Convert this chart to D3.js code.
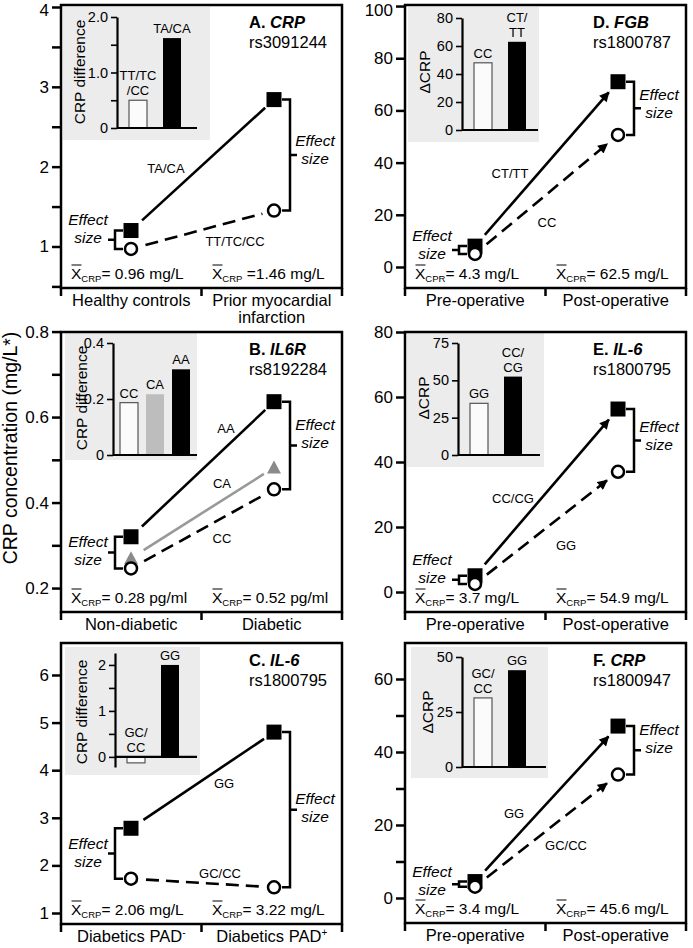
<!DOCTYPE html>
<html>
<head>
<meta charset="utf-8">
<script src="https://cdn.jsdelivr.net/npm/d3@7"></script>
<style>
  html, body { margin: 0; padding: 0; background: #fff; }
  svg { display: block; }
</style>
</head>
<body>
<svg id="fig" width="693" height="948"></svg>
<script>
/* DATA */
const panelLetters = ["A", "B", "C", "D", "E", "F"]
const geneNames = ["CRP", "IL6R", "IL-6", "FGB", "IL-6", "CRP"]
const snpIds = ["rs3091244", "rs8192284", "rs1800795", "rs1800787", "rs1800795", "rs1800947"]

const categoryLabels = [
  ["Healthy controls", "Prior myocardial\ninfarction"],
  ["Non-diabetic", "Diabetic"],
  ["Diabetics PAD^-", "Diabetics PAD^+"],
  ["Pre-operative", "Post-operative"],
  ["Pre-operative", "Post-operative"],
  ["Pre-operative", "Post-operative"]
]

const meanSubscripts = ["CRP", "CRP", "CRP", "CPR", "CRP", "CRP"]
const meanTexts = [
  ["= 0.96 mg/L", " =1.46 mg/L"],
  ["= 0.28 pg/ml", "= 0.52 pg/ml"],
  ["= 2.06 mg/L", "= 3.22 mg/L"],
  ["= 4.3 mg/L", "= 62.5 mg/L"],
  ["= 3.7 mg/L", "= 54.9 mg/L"],
  ["= 3.4 mg/L", "= 45.6 mg/L"]
]

// first genotype = filled square + solid line, last = open circle + dashed line, middle = grey triangle
const seriesNames = [
  ["TA/CA", "TT/TC/CC"],
  ["AA", "CA", "CC"],
  ["GG", "GC/CC"],
  ["CT/TT", "CC"],
  ["CC/CG", "GG"],
  ["GG", "GC/CC"]
]
const seriesValues = [
  [[1.2, 2.84], [0.97, 1.45]],
  [[0.32, 0.636], [0.27, 0.482], [0.246, 0.431]],
  [[2.78, 4.8], [1.72, 1.54]],
  [[8, 71], [5, 50.6]],
  [[5.0, 56.3], [2.5, 37]],
  [[4.5, 47.1], [3.1, 33.8]]
]

// inset bar charts (left bar white, right bar black, middle grey)
const insetGenotypes = [
  ["TT/TC\n/CC", "TA/CA"],
  ["CC", "CA", "AA"],
  ["GC/\nCC", "GG"],
  ["CC", "CT/\nTT"],
  ["GG", "CC/\nCG"],
  ["GC/\nCC", "GG"]
]
const insetValues = [
  [0.5, 1.62],
  [0.187, 0.217, 0.306],
  [-0.13, 2.0],
  [48, 63],
  [34.6, 52.5],
  [31.4, 44]
]
const insetTitles = ["CRP difference", "CRP difference", "CRP difference", "\u0394CRP", "\u0394CRP", "\u0394CRP"]

// axes
const yDomains = [[0.48, 4.025], [0.144, 0.799], [0.769, 6.672], [-8.05, 100.4], [-6.15, 80], [-6.85, 69.86]]
const yTicks = [[1, 2, 3, 4], [0.2, 0.4, 0.6, 0.8], [1, 2, 3, 4, 5, 6], [0, 20, 40, 60, 80, 100], [0, 20, 40, 60, 80], [0, 20, 40, 60]]
const yMinorTicks = [[0.5, 1.5, 2.5, 3.5], [0.3, 0.5, 0.7], [], [], [], [10, 30, 50]]

const insetDomains = [[0, 2], [0, 0.4], [-0.22, 2.26], [0, 80], [0, 75], [0, 50]]
const insetTicks = [[0, 1, 2], [0, 0.2, 0.4], [0, 1, 2], [0, 20, 40, 60, 80], [0, 25, 50, 75], [0, 25, 50]]
const insetTickLabels = [["0", "1.0", "2.0"], ["0", "0.2", "0.4"], ["0", "1", "2"], ["0", "20", "40", "60", "80"], ["0", "25", "50", "75"], ["0", "25", "50"]]
const insetMinorTicks = [[0.5, 1.5], [], [0.5, 1.5], [], [], []]

/* LAYOUT */
const FONT = "'Liberation Sans', Arial, Helvetica, sans-serif"

const frames = [
  { x0: 61, x1: 342, y0: 5, y1: 288 },
  { x0: 61, x1: 342, y0: 332, y1: 612 },
  { x0: 61, x1: 342, y0: 643, y1: 924 },
  { x0: 405, x1: 686, y0: 5, y1: 288 },
  { x0: 405, x1: 686, y0: 332, y1: 612 },
  { x0: 405, x1: 686, y0: 643, y1: 923 }
]
const insetBoxes = [
  { x: 63, y: 7, w: 147, h: 133, ax: 117, axEnd: 197, r: [128, 17] },
  { x: 65, y: 333, w: 132, h: 127, ax: 113, axEnd: 197, r: [455, 343] },
  { x: 65, y: 647, w: 135, h: 128, ax: 115, axEnd: 197, r: [767, 653] },
  { x: 408, y: 7, w: 131, h: 135, ax: 462, axEnd: 538, r: [130, 18] },
  { x: 407, y: 333, w: 137, h: 134, ax: 458, axEnd: 540, r: [455, 343] },
  { x: 411, y: 647, w: 137, h: 131, ax: 462, axEnd: 546, r: [767, 657] }
]
// genotype label centres, relative to the frame's top-left corner
const labelSpots = [
  [[105, 163], [174, 236]],
  [[165, 96], [161, 151], [161, 206]],
  [[163, 140], [159, 230]],
  [[105, 168], [142, 217]],
  [[108, 166], [161, 213]],
  [[109, 170], [161, 202]]
]
// baseline of "Effect" relative to the bracket's middle tick: [left bracket, right bracket]
const effectShift = [[-15, -9], [-6, -15], [-5, -6], [-9, -8], [-15, -8], [-7, -15]]
const withArrows = [false, false, false, true, true, true]

const svg = d3.select('#fig').attr('font-family', FONT)

svg.append('defs').append('marker')
  .attr('id', 'head')
  .attr('viewBox', '0 0 10 10')
  .attr('refX', 9).attr('refY', 5)
  .attr('markerWidth', 11).attr('markerHeight', 10)
  .attr('markerUnits', 'userSpaceOnUse')
  .attr('orient', 'auto')
  .append('path').attr('d', 'M0,0L10,5L0,10Z').attr('fill', '#000')

// pull both ends of a segment in, so the line stops short of the symbols
function shorten(x1, y1, x2, y2, a, b) {
  const dx = x2 - x1, dy = y2 - y1, len = Math.hypot(dx, dy)
  return [x1 + dx * a / len, y1 + dy * a / len, x2 - dx * b / len, y2 - dy * b / len]
}

function drawPanel(p) {
  const fr = frames[p], box = insetBoxes[p]
  const g = svg.append('g')

  const y = d3.scaleLinear().domain(yDomains[p]).range([fr.y1, fr.y0])
  const band = d3.scaleBand().domain([0, 1]).range([fr.x0, fr.x1])
  const x = d3.scalePoint().domain([0, 1]).range([fr.x0 + 70, fr.x0 + 213])

  // --- inset bar chart ---
  g.append('rect')
    .attr('x', box.x).attr('y', box.y)
    .attr('width', box.w).attr('height', box.h)
    .attr('fill', '#ececec')

  const iy = d3.scaleLinear().domain(insetDomains[p]).range(box.r)
  const names = insetGenotypes[p], n = names.length
  const step = n === 3 ? 26 : 34, start = n === 3 ? 7 : 12
  const ix = d3.scaleBand().domain(d3.range(n))
    .range([box.ax + start, box.ax + start + (n - 1) * step + 18])
    .paddingInner(1 - 18 / step).paddingOuter(0)

  const barFill = i => i === n - 1 ? '#000' : (i === 0 ? '#fbfbfb' : '#bdbdbd')

  g.selectAll(null)
    .data(insetValues[p])
    .join('rect')
    .attr('x', (d, i) => ix(i))
    .attr('width', ix.bandwidth())
    .attr('y', d => iy(Math.max(0, d)))
    .attr('height', d => Math.abs(iy(d) - iy(0)))
    .attr('fill', (d, i) => barFill(i))
    .attr('stroke', (d, i) => i === 0 ? '#555' : 'none')
    .attr('stroke-width', 1.2)

  insetValues[p].forEach((v, i) => {
    const lines = names[i].split('\n')
    const top = iy(Math.max(0, v))
    lines.forEach((ln, k) => {
      g.append('text')
        .attr('x', ix(i) + ix.bandwidth() / 2)
        .attr('y', top - 5 - (lines.length - 1 - k) * 15)
        .attr('text-anchor', 'middle')
        .attr('font-size', 13)
        .text(ln)
    })
  })

  const ia = g.append('g')
    .attr('transform', `translate(${box.ax},0)`)
    .call(d3.axisLeft(iy).tickValues(insetTicks[p]).tickSize(6).tickSizeOuter(0).tickPadding(3)
      .tickFormat((d, i) => insetTickLabels[p][i]))
  ia.select('.domain').attr('stroke-width', 2.2)
  ia.selectAll('line').attr('stroke-width', 1.6)
  ia.selectAll('text').attr('font-size', 14.5).attr('font-family', FONT)

  if (insetMinorTicks[p].length) {
    g.append('g')
      .attr('transform', `translate(${box.ax},0)`)
      .call(d3.axisLeft(iy).tickValues(insetMinorTicks[p]).tickSize(6).tickFormat(''))
      .call(a => a.select('.domain').remove())
      .selectAll('line').attr('stroke-width', 1.6)
  }

  g.append('line')
    .attr('x1', box.ax).attr('x2', box.axEnd)
    .attr('y1', iy(0)).attr('y2', iy(0))
    .attr('stroke', '#000').attr('stroke-width', 2.2)

  g.append('text')
    .attr('transform', `translate(${box.x + 22},${box.y + 65}) rotate(-90)`)
    .attr('text-anchor', 'middle')
    .attr('font-size', 15.5)
    .text(insetTitles[p])

  // --- frame and axes ---
  g.append('rect')
    .attr('x', fr.x0).attr('y', fr.y0)
    .attr('width', fr.x1 - fr.x0).attr('height', fr.y1 - fr.y0)
    .attr('fill', 'none').attr('stroke', '#000').attr('stroke-width', 2.5)

  const ya = g.append('g')
    .attr('transform', `translate(${fr.x0},0)`)
    .call(d3.axisLeft(y).tickValues(yTicks[p]).tickSize(9).tickPadding(3).tickFormat(d => d))
  ya.select('.domain').remove()
  ya.selectAll('line').attr('stroke-width', 2.5)
  // keep the topmost labels inside the page
  ya.selectAll('text').attr('font-size', 17).attr('font-family', FONT)
    .attr('y', d => Math.max(0, 10 - y(d)))

  if (yMinorTicks[p].length) {
    g.append('g')
      .attr('transform', `translate(${fr.x0},0)`)
      .call(d3.axisLeft(y).tickValues(yMinorTicks[p]).tickSize(9).tickFormat(''))
      .call(a => a.select('.domain').remove())
      .selectAll('line').attr('stroke-width', 2.5)
  }

  g.selectAll(null)
    .data([band(0), band(1), fr.x1])
    .join('line')
    .attr('x1', d => d).attr('x2', d => d)
    .attr('y1', fr.y1).attr('y2', fr.y1 + 8)
    .attr('stroke', '#000').attr('stroke-width', 2.5)

  categoryLabels[p].forEach((lab, i) => {
    const cx = band(i) + band.bandwidth() / 2
    const t = g.append('text')
      .attr('x', cx).attr('y', fr.y1 + 18)
      .attr('text-anchor', 'middle')
      .attr('font-size', 16.5)
    lab.split('\n').forEach((line, k) => {
      const parts = line.split('^')
      t.append('tspan').attr('x', cx).attr('dy', k ? 17 : 0).text(parts[0])
      if (parts[1]) t.append('tspan').attr('font-size', 10).attr('dy', -6).text(parts[1])
    })
  })

  // --- genotype lines ---
  const vals = seriesValues[p], ns = vals.length
  const role = s => s === 0 ? 'hi' : (s === ns - 1 ? 'lo' : 'mid')

  vals.forEach((v, s) => {
    const c = shorten(x(0), y(v[0]), x(1), y(v[1]), 15, withArrows[p] ? 14 : 12)
    const ln = g.append('line')
      .attr('x1', c[0]).attr('y1', c[1]).attr('x2', c[2]).attr('y2', c[3])
      .attr('stroke', role(s) === 'mid' ? '#999' : '#000')
      .attr('stroke-width', 2.6)
      .attr('stroke-dasharray', role(s) === 'lo' ? '13,7' : null)
    if (withArrows[p]) ln.attr('marker-end', 'url(#head)')
  })

  vals.forEach((v, s) => {
    const r = role(s)
    v.forEach((val, i) => {
      const cx = x(i), cy = y(val)
      if (r === 'hi') {
        g.append('rect').attr('x', cx - 7.5).attr('y', cy - 7.5)
          .attr('width', 15).attr('height', 15).attr('fill', '#000')
      } else if (r === 'mid') {
        g.append('path').attr('d', `M${cx - 7},${cy + 6}L${cx + 7},${cy + 6}L${cx},${cy - 7}Z`)
          .attr('fill', '#8a8a8a')
      }
    })
  })
  vals[ns - 1].forEach((val, i) => {
    g.append('circle').attr('cx', x(i)).attr('cy', y(val)).attr('r', 6)
      .attr('fill', '#fff').attr('stroke', '#000').attr('stroke-width', 2.5)
  })

  seriesNames[p].forEach((nm, s) => {
    g.append('text')
      .attr('x', fr.x0 + labelSpots[p][s][0])
      .attr('y', fr.y0 + labelSpots[p][s][1])
      .attr('dy', '0.35em')
      .attr('text-anchor', 'middle')
      .attr('font-size', 13)
      .text(nm)
  })

  // --- effect size brackets ---
  ;[0, 1].forEach(i => {
    const dir = i === 0 ? -1 : 1
    const bx = x(i) + dir * 16, ex = x(i) + dir * 8
    const ya1 = y(vals[0][i]), yb1 = y(vals[ns - 1][i]), ym = (ya1 + yb1) / 2
    g.append('path')
      .attr('d', `M${ex},${ya1}H${bx}V${yb1}H${ex}M${bx},${ym}H${bx + dir * 7}`)
      .attr('fill', 'none').attr('stroke', '#000').attr('stroke-width', 2.5)
    const tx = bx + dir * (i === 0 ? 27 : 25)
    const ty = ym + effectShift[p][i]
    ;['Effect', 'size'].forEach((w, k) => {
      g.append('text')
        .attr('x', tx).attr('y', ty + k * 18)
        .attr('text-anchor', 'middle')
        .attr('font-size', 15.5).attr('font-style', 'italic')
        .text(w)
    })
  })

  // --- panel title ---
  const tt = g.append('text')
    .attr('x', fr.x0 + 188).attr('y', fr.y0 + 23)
    .attr('font-size', 16.5).attr('font-weight', 'bold')
  tt.append('tspan').text(panelLetters[p] + '. ')
  tt.append('tspan').attr('font-style', 'italic').text(geneNames[p])
  g.append('text')
    .attr('x', fr.x0 + 188).attr('y', fr.y0 + 43)
    .attr('font-size', 16.5)
    .text(snpIds[p])

  // --- group means ---
  ;[10, 151].forEach((off, i) => {
    const mx = fr.x0 + off, my = fr.y1 - 9
    const t = g.append('text').attr('x', mx).attr('y', my).attr('font-size', 15.5)
    t.append('tspan').text('X')
    t.append('tspan').attr('font-size', 9.5).attr('dy', 3).text(meanSubscripts[p])
    t.append('tspan').attr('dy', -3).text(meanTexts[p][i])
    g.append('line')
      .attr('x1', mx + 0.5).attr('x2', mx + 10.5)
      .attr('y1', my - 14).attr('y2', my - 14)
      .attr('stroke', '#000').attr('stroke-width', 1)
  })
}

d3.range(6).forEach(drawPanel)

svg.append('text')
  .attr('transform', 'translate(17,448) rotate(-90)')
  .attr('text-anchor', 'middle')
  .attr('font-size', 19.5)
  .text('CRP concentration (mg/L*)')
</script>
</body>
</html>
